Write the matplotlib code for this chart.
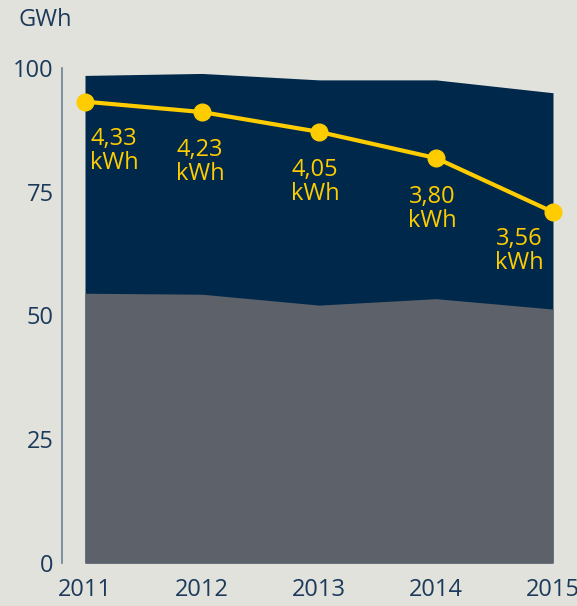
import matplotlib.pyplot as plt

plt.rcParams['font.family'] = ['Open Sans', 'DejaVu Sans']

years = [2011, 2012, 2013, 2014, 2015]
grey_part = [54.5, 54.3, 52.1, 53.4, 51.3]
total = [98.5, 98.9, 97.6, 97.6, 95.0]
line_vals = [93.2, 91.1, 87.1, 81.8, 70.9]
labels = ["4,33\nkWh", "4,23\nkWh", "4,05\nkWh", "3,80\nkWh", "3,56\nkWh"]

bg = "#e1e2db"
navy = "#00284a"
grey = "#5c616a"
yellow = "#ffcc00"
text_col = "#1c3a5c"

W, H = 577, 606
fig = plt.figure(figsize=(W / 100, H / 100), dpi=100, facecolor=bg)
ax = fig.add_axes([62 / W, (H - 563) / H, (570 - 62) / W, 495 / H])
ax.set_facecolor(bg)

ax.fill_between(years, 0, total, color=navy, linewidth=0)
ax.fill_between(years, 0, grey_part, color=grey, linewidth=0)
ax.plot(years, line_vals, color=yellow, linewidth=3, marker="o",
        markersize=12, clip_on=False, zorder=5)

# value labels (offsets in points)
offsets = [(21, -18), (-1.5, -18.7), (-3, -19), (-3, -19.5), (-24, -10.6)]
for x, y, lab, (dx, dy) in zip(years, line_vals, labels, offsets):
    ax.annotate(lab, (x, y), xytext=(dx, dy), textcoords="offset points",
                ha="center", va="top", color=yellow, fontsize=17,
                linespacing=1.0)

px = 117.0
ax.set_xlim(2011 - 23 / px, 2011 + (570 - 85) / px)
ax.set_ylim(0, 100)
ax.set_xticks(years)
ax.set_yticks([0, 25, 50, 75, 100])
ax.tick_params(axis="both", length=0, labelsize=17, labelcolor=text_col)
ax.tick_params(axis="y", pad=6)
ax.tick_params(axis="x", pad=11)

for s in ["top", "right", "bottom"]:
    ax.spines[s].set_visible(False)
ax.spines["left"].set_color("#6b7f94")
ax.spines["left"].set_linewidth(1.2)

fig.text(18 / W, 1 - 20 / H, "GWh", fontsize=17, color=text_col,
         ha="left", va="center")

fig.savefig("out.png", dpi=100, facecolor=bg)
